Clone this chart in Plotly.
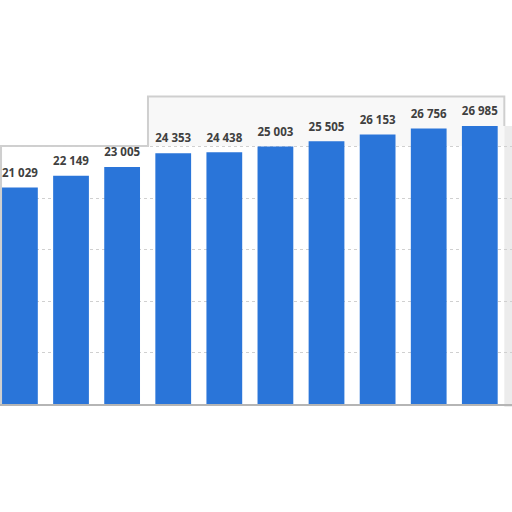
import plotly.graph_objects as go

# values, left to right (no axis labels visible in the crop)
categories = ["1", "2", "3", "4", "5", "6", "7", "8", "9", "10"]
values = [21029, 22149, 23005, 24353, 24438, 25003, 25505, 26153, 26756, 26985]

BAR_BLUE = "#2a75d9"
SHADOW = "#cfcfcf"

fig = go.Figure()
fig.add_trace(
    go.Bar(
        x=categories,
        y=values,
        marker=dict(color=BAR_BLUE, line=dict(width=0)),
        hoverinfo="skip",
    )
)
# value labels sit a bit higher than plotly's outside bar text, so use a text trace
fig.add_trace(
    go.Scatter(
        x=categories,
        y=values,
        mode="markers+text",
        marker=dict(size=11, opacity=0),
        text=[f"{v:,}".replace(",", " ") for v in values],
        textposition="top center",
        textfont=dict(family="Open Sans", size=11.5, color="#404040", weight="bold"),
        hoverinfo="skip",
        cliponaxis=False,
    )
)

# screenshot frame left around the plot (soft grey edges)
frame = [
    # faint tint in the raised top-right part
    dict(type="rect", xref="paper", yref="paper", x0=0.29, x1=0.985, y0=0.835, y1=0.995,
         fillcolor="#f8f8f8", line=dict(width=0), layer="below"),
    # outline: left edge, step up, top edge
    dict(type="path", xref="paper", yref="paper",
         path="M 0.002,0 L 0.002,0.835 L 0.289,0.835 L 0.289,0.995 L 0.985,0.995 L 0.985,0.9",
         line=dict(color=SHADOW, width=2), layer="below"),
    # right edge shade
    dict(type="rect", xref="paper", yref="paper", x0=0.985, x1=1.0, y0=-0.01, y1=0.9,
         fillcolor="#ececec", line=dict(width=0), layer="below"),
]

fig.update_layout(
    width=512,
    height=512,
    margin=dict(l=0, r=0, t=95, b=108),
    paper_bgcolor="white",
    plot_bgcolor="white",
    bargap=0.3,
    showlegend=False,
    shapes=frame,
    xaxis=dict(
        range=[-0.39, 9.63],
        showticklabels=False,
        showgrid=False,
        zeroline=False,
        ticks="",
        showline=True,
        linecolor="#b5b5b5",
        linewidth=2,
    ),
    yaxis=dict(
        range=[0, 30000],
        dtick=5000,
        showticklabels=False,
        showgrid=True,
        gridcolor="#d0d0d0",
        griddash="dot",
        gridwidth=1,
        zeroline=False,
        ticks="",
    ),
)

# page body has a default 8px margin; drop it so the figure fills the window
fig.write_html(
    "out.html",
    config={"displayModeBar": False},
    post_script="document.body.style.margin='0';",
)
